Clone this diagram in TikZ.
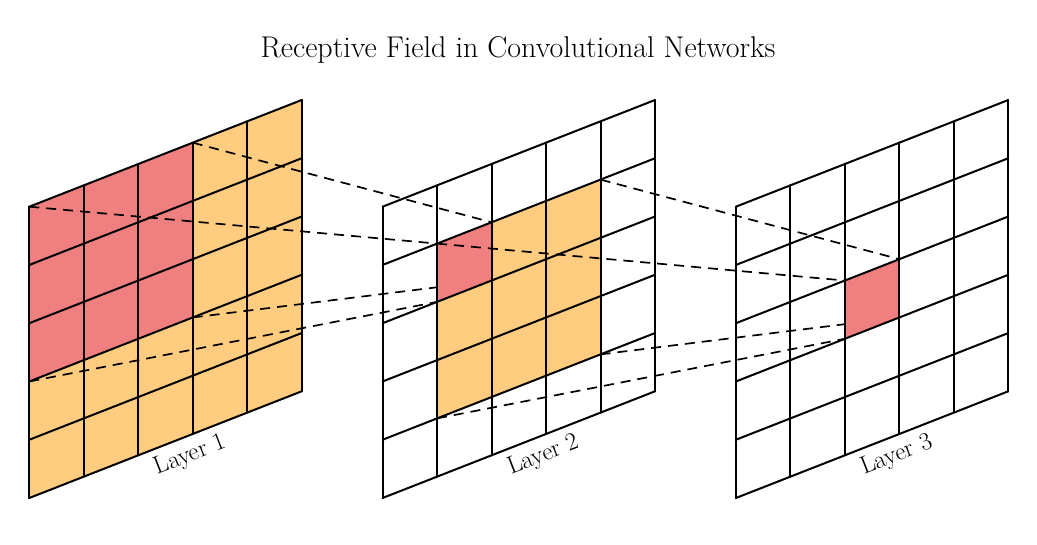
\documentclass[tikz,border=0pt]{standalone}
\definecolor{rfred}{RGB}{240,128,128}
\definecolor{rforange}{RGB}{255,204,128}
\begin{document}
\begin{tikzpicture}[x=1pt,y=-1pt,
  gridline/.style={line width=2pt, line cap=round, line join=round},
  conn/.style={line width=1.7pt, dash pattern=on 10pt off 7pt},
  lbl/.style={font=\fontsize{25}{30}\selectfont, rotate=21.4, inner sep=0pt},
  ttl/.style={font=\fontsize{30}{36}\selectfont, inner sep=0pt}]
\useasboundingbox (0,0) rectangle (1037,545);
\foreach \l/\ox in {1/29.3, 2/382.6, 3/735.9} {
  \foreach \i in {0,...,5} {
    \foreach \j in {0,...,5} {
      \coordinate (L\l-\i-\j) at ({\ox+\i*54.48}, {206.7-\i*21.34+\j*58.26});
    }
  }
}
\node[ttl] (title) at (518,50) {Receptive Field in Convolutional Networks};
% Layer 1
\fill[rforange] (L1-0-0) -- (L1-5-0) -- (L1-5-5) -- (L1-0-5) -- cycle;
\fill[rfred] (L1-0-0) -- (L1-3-0) -- (L1-3-3) -- (L1-0-3) -- cycle;
\foreach \k in {0,...,5} {
  \draw[gridline] (L1-\k-0) -- (L1-\k-5);
  \draw[gridline] (L1-0-\k) -- (L1-5-\k);
}
% connectors 1 -> 2
\draw[conn] (L1-0-0) -- (L2-1-1);
\draw[conn] (L1-3-0) -- (L2-2-1);
\draw[conn] (L1-0-3) -- (L2-1-2);
\draw[conn] (L1-3-3) -- (L2-2-2);
% Layer 2
\fill[rforange] (L2-1-1) -- (L2-4-1) -- (L2-4-4) -- (L2-1-4) -- cycle;
\fill[rfred] (L2-1-1) -- (L2-2-1) -- (L2-2-2) -- (L2-1-2) -- cycle;
\foreach \k in {0,...,5} {
  \draw[gridline] (L2-\k-0) -- (L2-\k-5);
  \draw[gridline] (L2-0-\k) -- (L2-5-\k);
}
% connectors 2 -> 3
\draw[conn] (L2-1-1) -- (L3-2-2);
\draw[conn] (L2-4-1) -- (L3-3-2);
\draw[conn] (L2-1-4) -- (L3-2-3);
\draw[conn] (L2-4-4) -- (L3-3-3);
% Layer 3
\fill[rfred] (L3-2-2) -- (L3-3-2) -- (L3-3-3) -- (L3-2-3) -- cycle;
\foreach \k in {0,...,5} {
  \draw[gridline] (L3-\k-0) -- (L3-\k-5);
  \draw[gridline] (L3-0-\k) -- (L3-5-\k);
}
% labels
\node[lbl] (lab1) at (190.3,455.7) {Layer 1};
\node[lbl] (lab2) at (543.6,455.7) {Layer 2};
\node[lbl] (lab3) at (896.9,455.7) {Layer 3};
\end{tikzpicture}
\end{document}
